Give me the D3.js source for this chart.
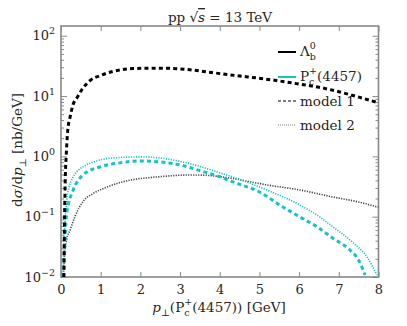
<!DOCTYPE html>
<html><head><meta charset="utf-8">
<script src="https://cdn.jsdelivr.net/npm/d3@7"></script>
<style>
html,body{margin:0;padding:0;background:#fff;}
text{font-family:"DejaVu Serif",serif;fill:#262626;}
</style></head>
<body><svg id="c" width="407" height="326"></svg>
<script>
// ---- data ----
const pT_lb1 = [0.07,0.09,0.11,0.13,0.17,0.23,0.30,0.40,0.52,0.73,1.0,1.3,1.8,2.5,3.2,3.8,4.5,5.0,5.5,6.0,6.5,7.0,7.5,8.0];
const lb_model1 = [0.01,0.1,0.5,1.0,2.7,4.5,7.1,9.3,12.6,18,22,25.5,28.5,29,27.5,24.5,21.5,19.7,17.8,15.8,14,11.8,9.6,7.7];
const pT_lb2 = [0.06,0.08,0.14,0.23,0.35,0.56,0.8,1.16,1.5,1.81,2.49,3.17,3.5,3.83,4.33,5.19,6.02,6.85,7.5,8.0];
const lb_model2 = [0.01,0.019,0.041,0.06,0.1,0.18,0.24,0.31,0.37,0.41,0.46,0.49,0.49,0.475,0.43,0.336,0.277,0.212,0.175,0.143];
const pT_pc1 = [0.07,0.1,0.15,0.3,0.55,0.98,1.49,1.99,2.49,3.0,3.5,4.0,4.33,5.0,5.59,6.02,6.45,6.85,7.28,7.5,7.66];
const pc_model1 = [0.01,0.04,0.12,0.27,0.49,0.67,0.78,0.84,0.81,0.72,0.58,0.46,0.378,0.257,0.145,0.099,0.068,0.044,0.028,0.019,0.0108];
const pT_pc2 = [0.05,0.07,0.1,0.15,0.2,0.3,0.45,0.6,0.8,1.31,1.99,2.49,3.17,3.5,3.83,4.33,5.19,6.02,6.52,6.85,7.36,7.71,7.96];
const pc_model2 = [0.01,0.03,0.08,0.2,0.3,0.45,0.6,0.7,0.8,0.94,0.98,0.94,0.78,0.68,0.58,0.454,0.277,0.156,0.099,0.068,0.037,0.0215,0.0108];
const xTicks = [0,1,2,3,4,5,6,7,8];
const yTickExp = [-2,-1,0,1,2];

// ---- layout ----
const L=61, R=378.5, T=26, B=277;
const FS=13.5;
const svg=d3.select("#c");
const x=d3.scaleLinear().domain([0,8]).range([L,R]);
const y=d3.scaleLog().domain([0.01,145]).range([B,T]);
const cyan="#14c3c3";

svg.append("defs").append("clipPath").attr("id","clip")
  .append("rect").attr("x",L).attr("y",T).attr("width",R-L).attr("height",B-T);

// minor y ticks
const minor=[];
for(let e=-2;e<=2;e++) for(let m=2;m<=9;m++){const v=m*Math.pow(10,e); if(v<=145) minor.push(v);}
const majorY=yTickExp.map(e=>Math.pow(10,e));

function styleAxis(g){g.attr("font-family",null).attr("font-size",null); g.select(".domain").remove(); g.selectAll(".tick line").attr("stroke","#888").attr("stroke-width",1);}
svg.append("g").attr("transform",`translate(${L},0)`).call(d3.axisLeft(y).tickValues(minor).tickSizeInner(-3).tickSizeOuter(0).tickFormat("")).call(styleAxis);
svg.append("g").attr("transform",`translate(${R},0)`).call(d3.axisRight(y).tickValues(minor).tickSizeInner(-3).tickSizeOuter(0).tickFormat("")).call(styleAxis);
svg.append("g").attr("transform",`translate(${R},0)`).call(d3.axisRight(y).tickValues(majorY).tickSizeInner(-6).tickSizeOuter(0).tickFormat("")).call(styleAxis);
const yl=svg.append("g").attr("transform",`translate(${L},0)`).call(d3.axisLeft(y).tickValues(majorY).tickSizeInner(-6).tickSizeOuter(0).tickPadding(6).tickFormat("")).call(styleAxis);
yl.selectAll(".tick text").each(function(d){
  const t=d3.select(this).attr("font-size",13).attr("fill","#262626").attr("dy","0.32em");
  t.append("tspan").text("10");
  t.append("tspan").attr("font-size",9.5).attr("dy",-6).text(String(Math.round(Math.log10(d))).replace("-","\u2212"));
});
const xb=svg.append("g").attr("transform",`translate(0,${B})`).call(d3.axisBottom(x).tickValues(xTicks).tickSizeInner(-5).tickSizeOuter(0).tickPadding(8).tickFormat(d3.format("d"))).call(styleAxis);
xb.selectAll(".tick text").attr("font-size",13).attr("fill","#262626");
svg.append("g").attr("transform",`translate(0,${T})`).call(d3.axisTop(x).tickValues(xTicks).tickSizeInner(-5).tickSizeOuter(0).tickFormat("")).call(styleAxis);

// frame
svg.append("rect").attr("x",L).attr("y",T).attr("width",R-L).attr("height",B-T)
  .attr("fill","none").attr("stroke","#888").attr("stroke-width",1.6);

// curves
const line=d3.line().x(d=>x(d[0])).y(d=>y(d[1])).curve(d3.curveMonotoneX);
const series=[
  {px:pT_lb2,v:lb_model2,c:"#444",w:1.6,da:"1.2,1.3"},
  {px:pT_pc2,v:pc_model2,c:cyan,w:1.6,da:"1.2,1.3"},
  {px:pT_pc1,v:pc_model1,c:cyan,w:3,da:"4,3.2"},
  {px:pT_lb1,v:lb_model1,c:"#000",w:3,da:"4,3.2"}
];
const cg=svg.append("g").attr("clip-path","url(#clip)");
series.forEach(s=>{
  cg.append("path").datum(s.px.map((p,i)=>[p,s.v[i]])).attr("d",line)
    .attr("fill","none").attr("stroke",s.c).attr("stroke-width",s.w).attr("stroke-dasharray",s.da);
});

// legend
const lg=svg.append("g");
const lx0=278, lx1=296, tx=300;
lg.append("line").attr("x1",lx0).attr("x2",lx1).attr("y1",52).attr("y2",52).attr("stroke","#000").attr("stroke-width",2);
let t=lg.append("text").attr("x",tx).attr("y",56).attr("font-size",FS);
t.append("tspan").text("\u039B");
t.append("tspan").attr("font-size",9.5).attr("dy",4).text("b");
t.append("tspan").attr("font-size",9.5).attr("dx",-6).attr("dy",-11).text("0");
lg.append("line").attr("x1",lx0).attr("x2",lx1).attr("y1",77).attr("y2",77).attr("stroke",cyan).attr("stroke-width",2);
t=lg.append("text").attr("x",tx).attr("y",81).attr("font-size",FS);
t.append("tspan").text("P");
t.append("tspan").attr("font-size",9.5).attr("dy",4).text("c");
t.append("tspan").attr("font-size",9.5).attr("dx",-5.3).attr("dy",-11).text("+");
t.append("tspan").attr("dy",7).text("(4457)");
lg.append("line").attr("x1",lx0).attr("x2",lx1).attr("y1",101).attr("y2",101).attr("stroke","#555").attr("stroke-width",1.3).attr("stroke-dasharray","3,2");
lg.append("text").attr("x",tx).attr("y",106).attr("font-size",FS).text("model 1");
lg.append("line").attr("x1",lx0).attr("x2",lx1).attr("y1",125).attr("y2",125).attr("stroke","#777").attr("stroke-width",1).attr("stroke-dasharray","1,1");
lg.append("text").attr("x",tx).attr("y",130).attr("font-size",FS).text("model 2");

// title
t=svg.append("text").attr("x",220).attr("y",22).attr("text-anchor","middle").attr("font-size",FS);
t.append("tspan").text("pp \u221A");
t.append("tspan").attr("font-style","italic").attr("text-decoration","overline").text("s");
t.append("tspan").text(" = 13 TeV");

// y label
t=svg.append("text").attr("transform","translate(22,150) rotate(-90)").attr("text-anchor","middle").attr("font-size",FS);
t.append("tspan").text("d");
t.append("tspan").attr("font-style","italic").text("\u03C3");
t.append("tspan").text("/d");
t.append("tspan").attr("font-style","italic").text("p");
t.append("tspan").attr("font-size",9.5).attr("dy",4).text("\u22A5");
t.append("tspan").attr("dy",-4).text(" [nb/GeV]");

// x label
t=svg.append("text").attr("x",219).attr("y",312).attr("text-anchor","middle").attr("font-size",FS);
t.append("tspan").attr("font-style","italic").text("p");
t.append("tspan").attr("font-size",9.5).attr("dy",4).text("\u22A5");
t.append("tspan").attr("dy",-4).text("(P");
t.append("tspan").attr("font-size",9.5).attr("dy",4).text("c");
t.append("tspan").attr("font-size",9.5).attr("dx",-5.3).attr("dy",-11).text("+");
t.append("tspan").attr("dy",7).text("(4457)) [GeV]");
</script></body></html>
